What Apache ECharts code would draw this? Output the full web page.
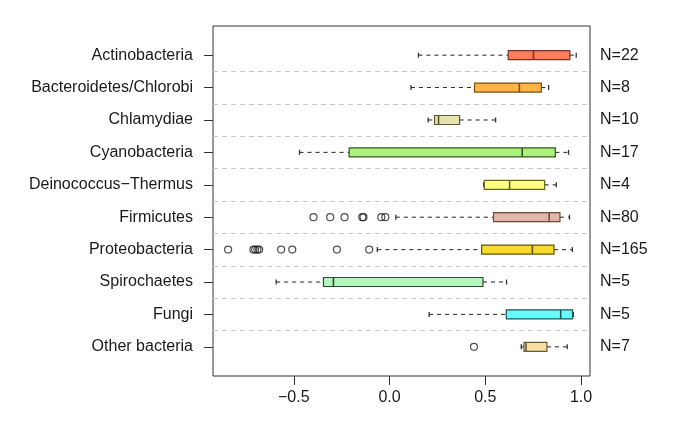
<!DOCTYPE html>
<html>
<head>
<meta charset="utf-8">
<script src="https://cdn.jsdelivr.net/npm/echarts@6/dist/echarts.min.js"></script>
<style>
html,body{margin:0;padding:0;background:#fff;}
#chart{width:685px;height:438px;}
</style>
</head>
<body>
<div id="chart"></div>
<script>
// ---- data ----
const categories = ['Actinobacteria','Bacteroidetes/Chlorobi','Chlamydiae','Cyanobacteria','Deinococcus\u2212Thermus','Firmicutes','Proteobacteria','Spirochaetes','Fungi','Other bacteria'];
const nLabels = ['N=22','N=8','N=10','N=17','N=4','N=80','N=165','N=5','N=5','N=7'];
const whiskerLow  = [0.151, 0.112, 0.202, -0.470, 0.492, 0.033, -0.064, -0.592, 0.207, 0.688];
const q1          = [0.620, 0.444, 0.235, -0.211, 0.495, 0.543, 0.481, -0.345, 0.610, 0.702];
const median      = [0.752, 0.678, 0.256, 0.693, 0.627, 0.834, 0.746, -0.293, 0.894, 0.713];
const q3          = [0.942, 0.793, 0.366, 0.866, 0.810, 0.890, 0.859, 0.488, 0.956, 0.822];
const whiskerHigh = [0.975, 0.831, 0.554, 0.935, 0.871, 0.940, 0.955, 0.611, 0.960, 0.928];
const outliers = [
  // [value, row]
  [-0.397, 6], [-0.310, 6], [-0.235, 6], [-0.142, 6], [-0.136, 6], [-0.043, 6], [-0.022, 6],
  [-0.843, 7], [-0.711, 7], [-0.702, 7], [-0.690, 7], [-0.681, 7], [-0.566, 7], [-0.508, 7], [-0.275, 7], [-0.106, 7],
  [0.441, 10]
];
const xTicks = [-0.5, 0, 0.5, 1.0];
const rowPositions = [1,2,3,4,5,6,7,8,9,10];
const separators = [1.5,2.5,3.5,4.5,5.5,6.5,7.5,8.5,9.5];

// ---- styles ----
const fillColors = ['#FB7D5B','#FFB444','#E6E2B0','#ABF27C','#FFFF82','#E3B6A9','#F7DA2C','#B4F7BE','#66FCFC','#F8DFA2'];
const borderColors = ['#7a3222','#7a5012','#5e5a3a','#35561f','#66661e','#6b4a42','#62540a','#2c4a30','#1e5656','#6a5a38'];

const boxData = categories.map((c, i) => [i + 1, whiskerLow[i], q1[i], median[i], q3[i], whiskerHigh[i]]);

const chart = echarts.init(document.getElementById('chart'));
const textColor = '#1a1a1a';
const fontFamily = 'Liberation Sans, Arial, Helvetica, sans-serif';

chart.setOption({
  animation: false,
  grid: { left: 213, right: 95, top: 26, bottom: 62, show: true, borderColor: '#333', borderWidth: 1, backgroundColor: 'transparent' },
  xAxis: {
    type: 'value', min: -0.922, max: 1.047,
    axisLine: { show: false, onZero: false },
    splitLine: { show: false },
    axisTick: { show: true, length: 9, lineStyle: { color: '#333' }, customValues: xTicks },
    axisLabel: { customValues: xTicks, margin: 14, color: textColor, fontSize: 16, fontFamily: fontFamily,
      formatter: v => (v < 0 ? '\u2212' : '') + Math.abs(v).toFixed(1) }
  },
  yAxis: [{
    type: 'value', min: 0.1, max: 10.9, inverse: true, position: 'left',
    axisLine: { show: false, onZero: false },
    splitLine: { show: false },
    axisTick: { show: true, length: 9, lineStyle: { color: '#333' }, customValues: rowPositions },
    axisLabel: { customValues: rowPositions, margin: 20, color: textColor, fontSize: 16, fontFamily: fontFamily,
      formatter: v => categories[Math.round(v) - 1] }
  }, {
    type: 'value', min: 0.1, max: 10.9, inverse: true, position: 'right',
    axisLine: { show: false, onZero: false },
    splitLine: { show: false },
    axisTick: { show: false },
    axisLabel: { customValues: rowPositions, margin: 10, color: textColor, fontSize: 16, fontFamily: fontFamily,
      formatter: v => nLabels[Math.round(v) - 1] }
  }],
  series: [
    {
      type: 'line', data: [], silent: true,
      markLine: {
        silent: true, symbol: ['none','none'], label: { show: false },
        lineStyle: { color: '#c8c8c8', type: [5, 4], width: 1 },
        data: separators.map(s => ({ yAxis: s }))
      }
    },
    {
      type: 'custom',
      data: boxData,
      encode: { x: [1,2,3,4,5], y: 0 },
      renderItem: function (params, api) {
        const row = api.value(0);
        const i = row - 1;
        const wl = api.coord([api.value(1), row]);
        const b1 = api.coord([api.value(2), row]);
        const md = api.coord([api.value(3), row]);
        const b3 = api.coord([api.value(4), row]);
        const wh = api.coord([api.value(5), row]);
        const y = wl[1];
        const h = 9, cap = 2.5;
        const wStyle = { stroke: '#333', lineWidth: 1.1, lineDash: [4, 4] };
        const cStyle = { stroke: '#333', lineWidth: 1.3 };
        return {
          type: 'group',
          children: [
            { type: 'line', shape: { x1: wl[0], y1: y, x2: b1[0], y2: y }, style: wStyle },
            { type: 'line', shape: { x1: b3[0], y1: y, x2: wh[0], y2: y }, style: wStyle },
            { type: 'line', shape: { x1: wl[0], y1: y - cap, x2: wl[0], y2: y + cap }, style: cStyle },
            { type: 'line', shape: { x1: wh[0], y1: y - cap, x2: wh[0], y2: y + cap }, style: cStyle },
            { type: 'rect', shape: { x: b1[0], y: y - h / 2, width: b3[0] - b1[0], height: h },
              style: { fill: fillColors[i], stroke: borderColors[i], lineWidth: 1.2 } },
            { type: 'line', shape: { x1: md[0], y1: y - h / 2, x2: md[0], y2: y + h / 2 },
              style: { stroke: borderColors[i], lineWidth: 1.6 } }
          ]
        };
      }
    },
    {
      type: 'scatter',
      data: outliers,
      symbol: 'circle',
      symbolSize: 7,
      itemStyle: { color: 'rgba(255,255,255,0)', borderColor: '#222', borderWidth: 1.2 }
    }
  ]
});
</script>
</body>
</html>
